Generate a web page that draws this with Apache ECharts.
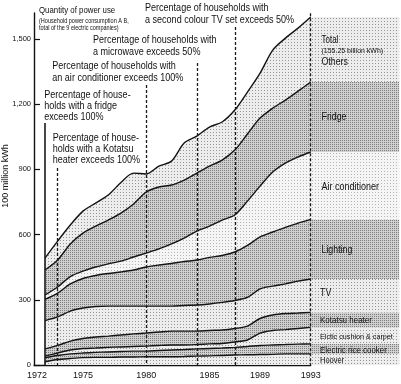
<!DOCTYPE html>
<html><head><meta charset="utf-8">
<script src="https://cdn.jsdelivr.net/npm/echarts@6/dist/echarts.min.js"></script>
<style>html,body{margin:0;padding:0;background:#fff}#c{width:401px;height:384px}</style>
</head><body><div id="c"></div>
<script>
// ---- data (100 million kWh, each category's own share, stacked) ----
const years = [1972,1973,1974,1975,1976,1977,1978,1979,1980,1981,1982,1983,1984,1985,1986,1987,1988,1989,1990,1991,1992,1993];
const hoover         = [15,25,30,34,35,35,37,37,38,38,38,39,41,42,44,46,47,48,49,51,51,51];
const riceCooker     = [19,19,21,21,23,25,25,27,26,29,31,32,33,34,34,35,38,42,43,43,45,46];
const cushionCarpet  = [7,11,18,21,20,21,21,21,23,23,23,21,20,21,21,25,30,57,67,69,72,76];
const kotatsuHeater  = [33,35,41,46,51,52,55,58,60,62,64,64,62,62,62,62,64,67,71,74,71,69];
const tv             = [130,131,138,140,140,138,133,128,124,119,115,118,120,122,127,129,132,136,133,136,147,154];
const lighting       = [98,110,125,136,143,150,157,166,180,189,196,202,207,214,216,223,239,239,249,260,267,274];
const airConditioner = [20,28,34,34,39,44,50,60,64,74,90,108,133,144,163,170,204,234,276,296,304,310];
const fridge         = [115,124,150,175,188,202,221,244,281,285,271,267,267,276,276,299,309,313,294,290,303,322];
const others         = [55,87,87,101,106,115,141,142,83,96,110,170,170,180,175,184,193,207,267,285,290,299];
const yTickValues = [0,300,600,900,1200,1500];
const xLabelYears = [1972,1975,1980,1985,1989,1993];
const markerYears = [1972,1973,1980,1984,1987,1993];
const markerTops  = [1113,906,1288,1389,1555,1619];

// ---- layout ----
const keyColumns = 7;            // empty columns right of 1993 that hold the key bands
const pxPerYear = 12.652;
const dataLeft = 45, dispLeft = 34, axisBottom = 19, dataTop = 6.4, dispTop = 13;
const yMaxData = 1650;
const plotH = 384 - dataTop - axisBottom;
const n = years.length;
const cats = years.map(String);
for (let k=1;k<=keyColumns;k++) cats.push('k'+k);

// ---- styles ----
function pat(bg, dot, step){
  const c=document.createElement('canvas'); c.width=c.height=step;
  const g=c.getContext('2d'); g.fillStyle=bg; g.fillRect(0,0,step,step);
  g.fillStyle=dot; g.fillRect(0,0,1,1);
  return {image:c, repeat:'repeat'};
}
const LIGHT = ()=>pat('#ededed','#959595',3);
const MED   = ()=>pat('#d0d0d0','#7c7c7c',2);
const VLIGHT= ()=>pat('#f5f5f5','#b4b4b4',3);

const bands = [
  {name:'Hoover', data:hoover, fill:LIGHT},
  {name:'Electric rice cooker', data:riceCooker, fill:MED},
  {name:'Cushion & carpet', data:cushionCarpet, fill:LIGHT},
  {name:'Kotatsu heater', data:kotatsuHeater, fill:MED},
  {name:'TV', data:tv, fill:LIGHT},
  {name:'Lighting', data:lighting, fill:MED},
  {name:'Air conditioner', data:airConditioner, fill:VLIGHT},
  {name:'Fridge', data:fridge, fill:MED},
  {name:'Others', data:others, fill:LIGHT}
];

const series = [];
bands.forEach(b=>{
  const last = b.data[n-1];
  series.push({type:'line', name:b.name, stack:'main', xAxisIndex:0, yAxisIndex:0,
    data: b.data.slice(), smooth:0.3, symbol:'none', silent:true,
    lineStyle:{color:'#141414', width:1.4}, areaStyle:{color:b.fill(), opacity:1}, z:2});
  const ext = cats.map((c,i)=> i>=n-1 ? last : null);
  series.push({type:'line', name:b.name+' key', stack:'ext', xAxisIndex:0, yAxisIndex:0,
    data: ext, symbol:'none', silent:true,
    lineStyle:{width:0, opacity:0}, areaStyle:{color:b.fill(), opacity:1}, z:1});
});
series.push({type:'line', xAxisIndex:0, yAxisIndex:0, data:[0], symbol:'none', silent:true,
  lineStyle:{opacity:0}, z:5,
  markLine:{silent:true, symbol:['none','none'], label:{show:false}, animation:false,
    data: markerYears.map((yr,i)=>[
      {coord:[years.indexOf(yr),markerTops[i]], lineStyle:{type: yr===1972?'solid':[3,2], width: yr===1972?1.6:1.3, color:'#1a1a1a'}},
      {coord:[years.indexOf(yr),0]}])}});

const FONT = '"Liberation Sans", Arial, sans-serif';
function txt(x,y,text,size,sx,lh){
  return {type:'text', x:x, y:y, scaleX:sx, silent:true, z:10,
    style:{text:text, font: size+'px '+FONT, fill:'#111', align:'left', verticalAlign:'top', lineHeight:lh||Math.round(size*1.1)}};
}
const graphics = [
  txt(39,6,'Quantity of power use',9,0.87),
  txt(39,17.5,'(Household power consumption A B,',6.5,0.85),
  txt(39,25,'total of the 9 electric companies)',6.5,0.85),
  txt(145,2.5,'Percentage of households with\na second colour TV set exceeds 50%',10.5,0.86,11.5),
  txt(93,34,'Percentage of households with\na microwave exceeds 50%',10.5,0.86,12),
  txt(52.3,60.5,'Percentage of households with\nan air conditioner exceeds 100%',10.5,0.86,11.7),
  txt(44.3,90,'Percentage of house-\nholds with a fridge\nexceeds 100%',10.5,0.86,11),
  txt(52.7,132.5,'Percentage of house-\nholds with a Kotatsu\nheater exceeds 100%',10.5,0.86,10.9),
  txt(321.5,34.5,'Total',10,0.8),
  txt(321.5,47,'(155.25 billion kWh)',7.5,0.93),
  txt(321.5,57,'Others',10,0.88),
  txt(321.5,112,'Fridge',10,0.88),
  txt(321.5,182,'Air conditioner',10,0.9),
  txt(321.5,245,'Lighting',10,0.88),
  txt(320,288,'TV',10,0.88),
  txt(320,315,'Kotatsu heater',9.5,0.84),
  txt(320,332,'Elctic cushion & carpet',8,0.9),
  txt(320,346,'Electric rice cooker',8.5,0.93),
  txt(320,356,'Hoover',8.5,0.88),
  {type:'text', x:6, y:176, rotation:Math.PI/2, silent:true, z:10,
    style:{text:'100 million kWh', font:'9px '+FONT, fill:'#111', align:'center', verticalAlign:'middle'}}
];

const chart = echarts.init(document.getElementById('c'), null, {renderer:'canvas'});
chart.setOption({
  animation:false,
  backgroundColor:'#fff',
  grid:[
    {left:dataLeft, right:401-(dataLeft+(cats.length-1)*pxPerYear), top:dataTop, bottom:axisBottom},
    {left:dispLeft, right:401-(dataLeft+(n-1)*pxPerYear), top:dispTop, bottom:axisBottom}
  ],
  xAxis:[
    {type:'category', gridIndex:0, data:cats, boundaryGap:false, show:false},
    {type:'value', gridIndex:1, min:years[0]-(dataLeft-dispLeft)/pxPerYear, max:years[n-1],
      axisLine:{show:true, lineStyle:{color:'#111', width:1.4}},
      axisTick:{show:true, inside:true, length:3, lineStyle:{color:'#111'}, customValues:years},
      splitLine:{show:false},
      axisLabel:{show:true, customValues:xLabelYears, fontSize:9, fontFamily:FONT, color:'#111', margin:6,
        formatter:v=> v===1972 ? '{l|1972}' : String(v),
        rich:{l:{padding:[0,16,0,0], fontSize:9, fontFamily:FONT, color:'#111'}}}}
  ],
  yAxis:[
    {type:'value', gridIndex:0, min:0, max:yMaxData, show:false},
    {type:'value', gridIndex:1, min:0, max:(365-dispTop)/(plotH/yMaxData),
      axisLine:{show:true, lineStyle:{color:'#111', width:1.4}},
      axisTick:{show:true, inside:true, length:6, lineStyle:{color:'#111', width:1.2}, customValues:yTickValues},
      splitLine:{show:false},
      axisLabel:{show:true, customValues:yTickValues, fontSize:7.5, fontFamily:FONT, color:'#111', margin:3,
        formatter:v=> v>=1000 ? (Math.floor(v/1000)+','+String(v%1000).padStart(3,'0')) : String(v)}}
  ],
  series: series,
  graphic: graphics
});
</script></body></html>
